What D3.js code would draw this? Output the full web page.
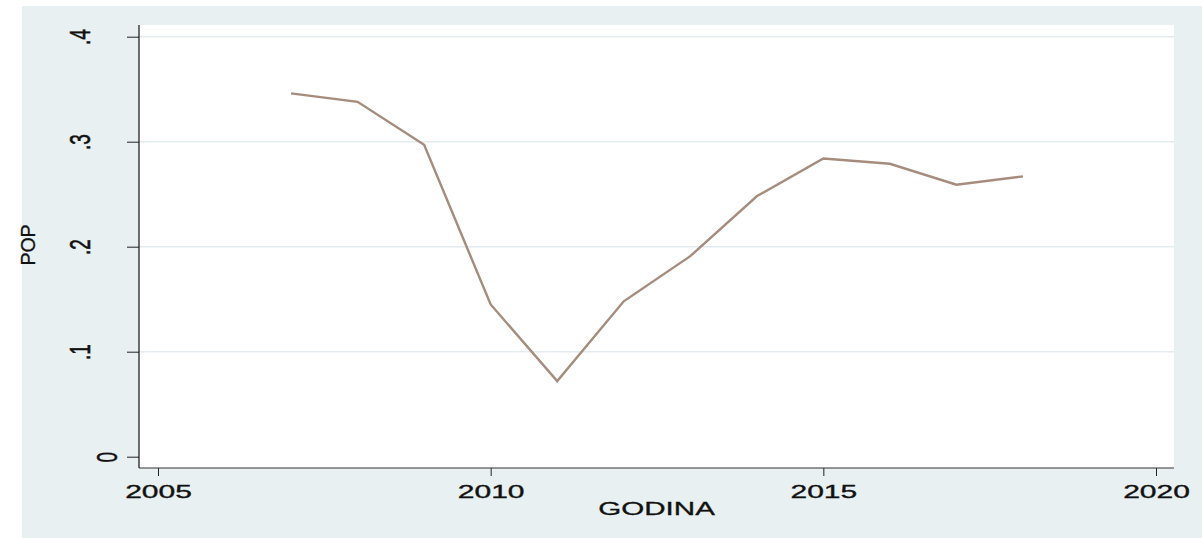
<!DOCTYPE html>
<html>
<head>
<meta charset="utf-8">
<script src="https://cdn.jsdelivr.net/npm/d3@7"></script>
<style>
  body { margin: 0; background: #ffffff; }
  svg { display: block; font-family: "Liberation Sans", Arial, sans-serif; }
</style>
</head>
<body>
<svg id="chart"></svg>
<script>
// data
const years = [2007, 2008, 2009, 2010, 2011, 2012, 2013, 2014, 2015, 2016, 2017, 2018];
const pop = [0.346, 0.338, 0.297, 0.145, 0.072, 0.148, 0.191, 0.248, 0.284, 0.279, 0.259, 0.267];
const xTicks = [2005, 2010, 2015, 2020];
const yTicks = [0, 0.1, 0.2, 0.3, 0.4];
const yTickLabels = ["0", ".1", ".2", ".3", ".4"];

document.addEventListener('DOMContentLoaded', function () {
    var W = 1202, H = 538;
    // plot region
    var plot = { left: 139, top: 25, right: 1174, bottom: 468 };

    const svg = d3.select('#chart')
        .attr("width", W)
        .attr("height", H);

    // outer graph region
    svg.append("rect")
        .attr("x", 22).attr("y", 6)
        .attr("width", W - 22).attr("height", H - 6)
        .attr("fill", "#e8f0f2");

    // plot region
    svg.append("rect")
        .attr("x", plot.left).attr("y", plot.top)
        .attr("width", plot.right - plot.left).attr("height", plot.bottom - plot.top)
        .attr("fill", "#ffffff");

    const x = d3.scaleLinear().domain([2005, 2020]).range([158, 1156]);
    const y = d3.scaleLinear().domain([0, 0.4]).range([456.7, 36.7]);

    // gridlines
    svg.append("g")
        .selectAll("line")
        .data(yTicks.filter(d => d > 0))
        .join("line")
        .attr("x1", plot.left).attr("x2", plot.right)
        .attr("y1", d => y(d)).attr("y2", d => y(d))
        .attr("stroke", "#e3ecef")
        .attr("stroke-width", 1.5);

    // Y axis
    const yAxisGroup = svg.append("g")
        .attr("transform", `translate(${plot.left},0)`)
        .call(d3.axisLeft(y).tickValues(yTicks).tickSize(12).tickSizeOuter(0)
            .tickFormat((d, i) => yTickLabels[i]));
    yAxisGroup.select(".domain").remove();
    yAxisGroup.selectAll("line").attr("stroke", "#222").attr("stroke-width", 1);
    yAxisGroup.selectAll("text")
        .attr("x", null).attr("dy", null)
        .attr("fill", "#111")
        .attr("stroke", "#111").attr("stroke-width", 0.35)
        .attr("font-size", 19)
        .style("text-anchor", "middle")
        .attr("transform", (d, i) => {
            var bx = (117 - 27 * (yTickLabels[i].length - 1)) - plot.left;
            return `translate(${bx},0) scale(1.6,1) rotate(-90)`;
        });

    // X axis
    const xAxisGroup = svg.append("g")
        .attr("transform", `translate(0,${plot.bottom})`)
        .call(d3.axisBottom(x).tickValues(xTicks).tickSize(8).tickSizeOuter(0)
            .tickFormat(d3.format("d")));
    xAxisGroup.select(".domain").remove();
    xAxisGroup.selectAll("line").attr("stroke", "#222").attr("stroke-width", 1);
    xAxisGroup.selectAll("text")
        .attr("y", null).attr("dy", null)
        .attr("fill", "#111")
        .attr("stroke", "#111").attr("stroke-width", 0.35)
        .attr("font-size", 19)
        .style("text-anchor", "middle")
        .attr("transform", "translate(0,29.5) scale(1.58,1)");

    // axis lines
    svg.append("line")
        .attr("x1", plot.left).attr("x2", plot.left)
        .attr("y1", plot.top).attr("y2", plot.bottom)
        .attr("stroke", "#111").attr("stroke-width", 1.2);
    svg.append("line")
        .attr("x1", plot.left).attr("x2", plot.right)
        .attr("y1", plot.bottom).attr("y2", plot.bottom)
        .attr("stroke", "#333").attr("stroke-width", 1.2);

    // the line
    const line = d3.line()
        .x((d, i) => x(years[i]))
        .y(d => y(d));
    svg.append("path")
        .datum(pop)
        .attr("d", line)
        .attr("fill", "none")
        .attr("stroke", "#a58c7d")
        .attr("stroke-width", 2.4)
        .attr("stroke-linejoin", "miter");

    // axis titles
    svg.append("text")
        .attr("text-anchor", "middle")
        .attr("transform", `translate(${(plot.left + plot.right) / 2},515) scale(1.6,1)`)
        .attr("font-size", 18.5)
        .attr("fill", "#111")
        .attr("stroke", "#111").attr("stroke-width", 0.3)
        .text("GODINA");

    svg.append("text")
        .attr("text-anchor", "middle")
        .attr("transform", `translate(35,245) scale(1.05,1) rotate(-90)`)
        .attr("font-size", 19.5)
        .attr("fill", "#111")
        .attr("stroke", "#111").attr("stroke-width", 0.3)
        .text("POP");
});
</script>
</body>
</html>
